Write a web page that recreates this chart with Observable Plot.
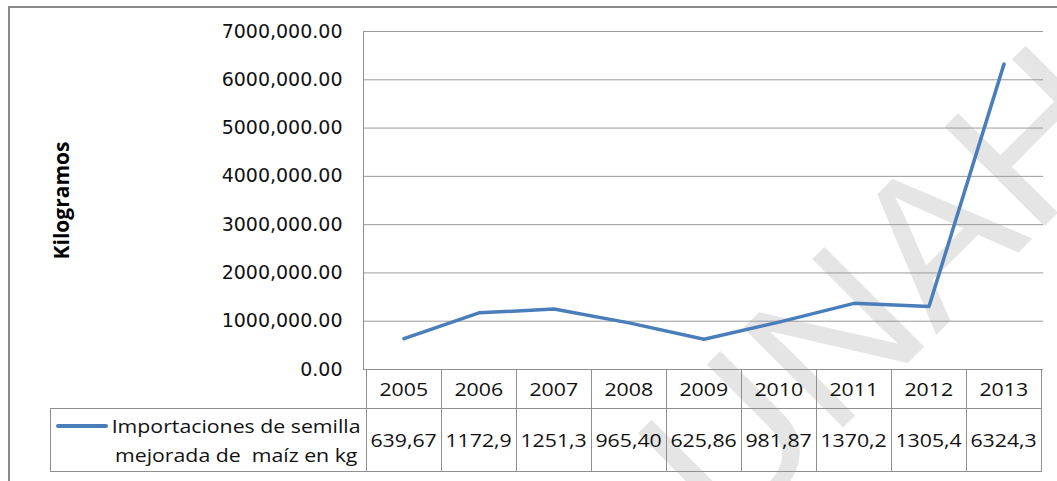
<!DOCTYPE html>
<html>
<head>
<meta charset="utf-8">
<script src="https://cdn.jsdelivr.net/npm/d3@7"></script>
<script src="https://cdn.jsdelivr.net/npm/@observablehq/plot@0.6"></script>
<style>
  html, body { margin: 0; padding: 0; background: #fff; }
  #wrap { position: relative; width: 1057px; height: 481px; overflow: hidden; background: #fff; }
  #wrap svg { position: absolute; left: 0; top: 0; }
  .outer { position: absolute; left: 8px; top: 6px; width: 1100px; height: 520px; border: 2px solid #8a8a8a; box-sizing: border-box; }
  .cell { position: absolute; box-sizing: border-box; border: 1px solid #8f8f8f; display: flex; align-items: center; justify-content: center;
          font-family: "Open Sans", sans-serif; font-size: 19px; color: #111; white-space: nowrap; }
  .cell span { display: inline-block; transform: scaleX(1.12); }
  .legend { justify-content: flex-start; }
  .legtext { text-align: center; line-height: 29px; position: absolute; left: 60px; width: 250px; top: 3px; }
  .swatch { position: absolute; left: 5px; top: 15px; width: 52px; height: 0; border-top: 4px solid #4a7ebb; border-radius: 2px; }
</style>
</head>
<body>
<div id="wrap"><div class="outer"></div></div>
<script>
const years = ["2005","2006","2007","2008","2009","2010","2011","2012","2013"];
const imports = [639670, 1172900, 1251300, 965400, 625860, 981870, 1370200, 1305400, 6324300];
const tableLabels = ["639,67","1172,9","1251,3","965,40","625,86","981,87","1370,2","1305,4","6324,3"];
const yTicks = [0, 1000000, 2000000, 3000000, 4000000, 5000000, 6000000, 7000000];
const yTickLabels = ["0.00","1000,000.00","2000,000.00","3000,000.00","4000,000.00","5000,000.00","6000,000.00","7000,000.00"];
const seriesName = ["Importaciones de semilla", "mejorada de\u00a0 maíz en kg"];
const yTitle = "Kilogramos";
const watermark = "UNAH";

const data = years.map((y, i) => ({year: y, value: imports[i]}));

const W = 1057, H = 481;
const mL = 363, mR = 14, mT = 31, mB = 112;

const chart = Plot.plot({
  width: W, height: H,
  marginLeft: mL, marginRight: mR, marginTop: mT, marginBottom: mB,
  style: {background: "transparent", overflow: "visible"},
  x: {type: "band", domain: years, padding: 0, axis: null},
  y: {domain: [0, 7000000], axis: null},
  marks: [
    Plot.text([watermark], {frameAnchor: "middle", dx: 182, dy: 92, rotate: -45,
      fontSize: 205, fontFamily: "Liberation Sans, Arial, sans-serif", fill: "#e5e5e5", text: d => d}),
    Plot.gridY(yTicks, {stroke: "#9a9a9a", strokeOpacity: 1, strokeWidth: 1}),
    Plot.frame({anchor: "left", stroke: "#8f8f8f"}),
    Plot.axisY(yTicks, {tickSize: 0, tickPadding: 21, fontSize: 19, fontFamily: "DejaVu Sans, sans-serif",
      fill: "#111", tickFormat: (d) => yTickLabels[yTicks.indexOf(d)], label: null}),
    Plot.text([yTitle], {frameAnchor: "left", dx: -301, rotate: -90, textAnchor: "middle", fontSize: 21, fontWeight: "bold",
      fontFamily: "Open Sans, sans-serif", fill: "#000", text: d => d}),
    Plot.line(data, {x: "year", y: "value", stroke: "#4a7ebb", strokeWidth: 3.5, strokeLinejoin: "round", strokeLinecap: "round"})
  ]
});

const wrap = document.getElementById("wrap");
wrap.appendChild(chart);

// Data table under the plot, aligned with the x band scale
const xs = chart.scale("x");
const ys = chart.scale("y");
const y0 = ys.apply(0);
const headerH = 39, rowH = 63;
const step = xs.bandwidth;

function addCell(left, top, w, h, cls, html) {
  const d = document.createElement("div");
  d.className = "cell" + (cls ? " " + cls : "");
  d.style.left = left + "px"; d.style.top = top + "px";
  d.style.width = (w + 1) + "px"; d.style.height = (h + 1) + "px";
  d.innerHTML = html;
  wrap.appendChild(d);
  return d;
}
years.forEach((yr, i) => {
  const x0 = xs.apply(yr);
  addCell(x0, y0, step, headerH, "", "<span>" + yr + "</span>");
  addCell(x0, y0 + headerH, step, rowH, "", "<span>" + tableLabels[i] + "</span>");
});
const legLeft = 50;
addCell(legLeft, y0 + headerH, xs.apply(years[0]) - legLeft, rowH, "legend",
  '<div class="swatch"></div><div class="legtext">' + seriesName.map(s => "<span>" + s + "</span>").join("<br>") + '</div>');
</script>
</body>
</html>
